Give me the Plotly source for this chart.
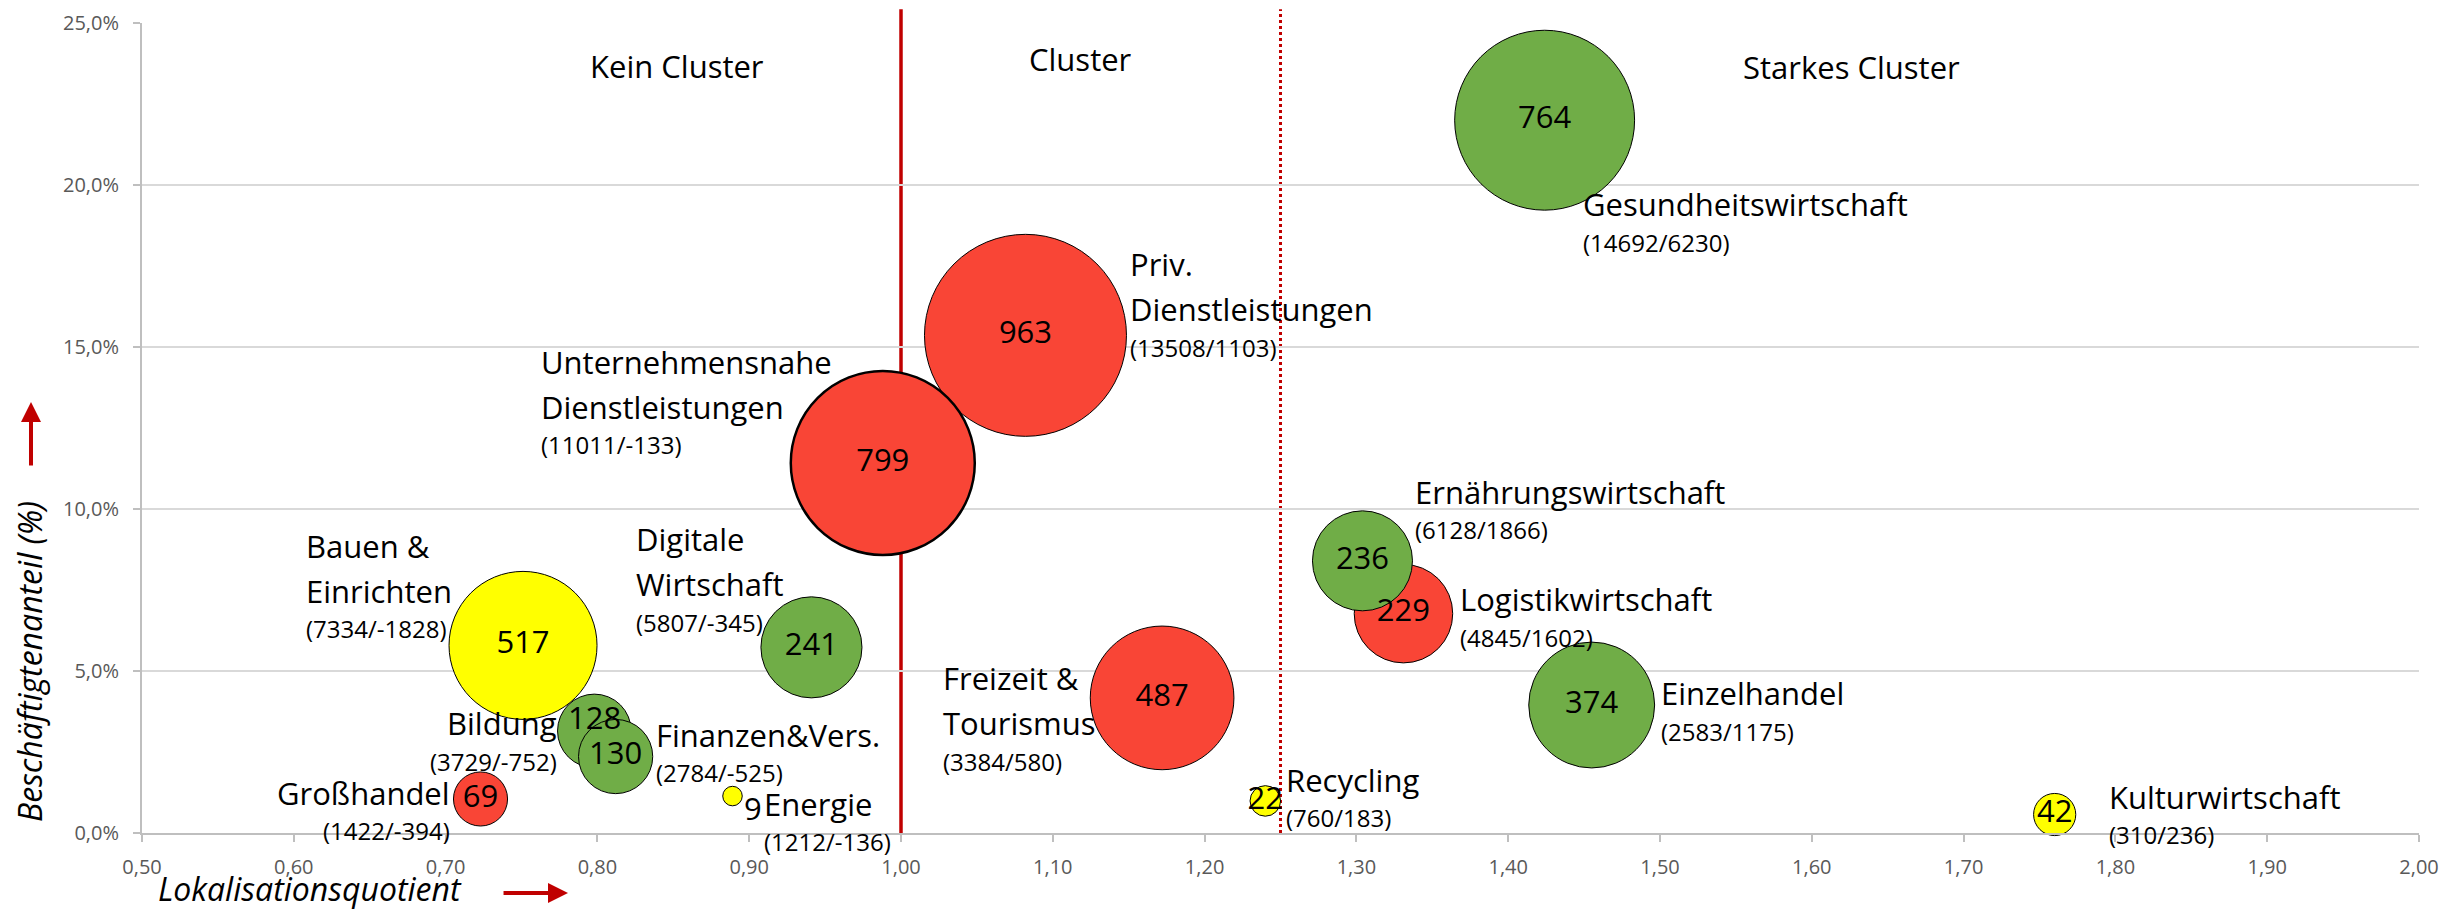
import plotly.graph_objects as go

# ---------------- data ----------------
sectors = ["Priv. Dienstleistungen", "Unternehmensnahe Dienstleistungen", "Gesundheitswirtschaft",
           "Bauen & Einrichten", "Digitale Wirtschaft", "Bildung", "Finanzen&Vers.", "Großhandel",
           "Energie", "Freizeit & Tourismus", "Recycling", "Logistikwirtschaft",
           "Ernährungswirtschaft", "Einzelhandel", "Kulturwirtschaft"]
label_names = ["Priv.<br>Dienstleistungen", "Unternehmensnahe<br>Dienstleistungen", "Gesundheitswirtschaft",
               "Bauen &<br>Einrichten", "Digitale<br>Wirtschaft", "Bildung", "Finanzen&Vers.", "Großhandel",
               "Energie", "Freizeit &<br>Tourismus", "Recycling", "Logistikwirtschaft",
               "Ernährungswirtschaft", "Einzelhandel", "Kulturwirtschaft"]
lq = [1.082, 0.988, 1.424, 0.751, 0.941, 0.798, 0.812, 0.723, 0.889, 1.172, 1.240, 1.331, 1.304, 1.455, 1.760]
share_pct = [15.36, 11.42, 22.0, 5.79, 5.73, 3.15, 2.36, 1.05, 1.14, 4.17, 0.99, 6.77, 8.40, 3.95, 0.57]
bubble_value = [963, 799, 764, 517, 241, 128, 130, 69, 9, 487, 22, 229, 236, 374, 42]
employees = [13508, 11011, 14692, 7334, 5807, 3729, 2784, 1422, 1212, 3384, 760, 4845, 6128, 2583, 310]
change = [1103, -133, 6230, -1828, -345, -752, -525, -394, -136, 580, 183, 1602, 1866, 1175, 236]
status = ["rot", "rot", "grün", "gelb", "grün", "grün", "grün", "rot", "gelb", "rot", "gelb", "rot",
          "grün", "grün", "gelb"]

x_ticks = [0.5 + 0.1 * i for i in range(16)]
region_titles = ["Kein Cluster", "Cluster", "Starkes Cluster"]
thresholds = [1.0, 1.25]

# ---------------- styles / label placement ----------------
status_color = {"rot": "#F94536", "grün": "#70AD47", "gelb": "#FFFF00"}
# label anchor positions (data units: x, y in %), alignment
label_pos = [
    (1.1495, 18.26, "left"), (0.7614, 15.26, "left"), (1.448, 20.11, "left"),
    (0.6065, 9.58, "left"), (0.824, 9.77, "left"), (0.7745, 4.09, "right"),
    (0.8375, 3.75, "left"), (0.704, 1.96, "right"), (0.9083, 1.62, "left"),
    (1.0263, 5.48, "left"), (1.2523, 2.36, "left"), (1.367, 7.92, "left"),
    (1.337, 11.25, "left"), (1.4994, 5.02, "left"), (1.7946, 1.82, "left"),
]
# value labels that sit off the bubble centre: (xshift, yshift, xanchor) in px
value_offsets = {9: (9, -12, "left"), 128: (0, 14, "center")}
region_pos = [(0.8523, 23.67), (1.118, 23.89), (1.626, 23.64)]
NAME_LINE = 45      # px between name lines
SUB_OFFSET = 42.4   # px from last name line top to the sub line top

FONT = "Open Sans"
y_frac = [v / 100 for v in share_pct]
colors = [status_color[s] for s in status]
line_w = [2.5 if b == 799 else 1 for b in bubble_value]
point_text = ["" if b in value_offsets else str(b) for b in bubble_value]

fig = go.Figure()
fig.add_trace(go.Scatter(
    x=lq, y=y_frac, mode="markers+text",
    text=point_text, textposition="middle center",
    textfont=dict(family=FONT, size=31, color="black"),
    marker=dict(size=bubble_value, sizemode="area", sizeref=0.0472, color=colors,
                opacity=1, line=dict(color="black", width=line_w)),
    cliponaxis=False, hoverinfo="text", hovertext=sectors,
))

# threshold lines
fig.add_shape(type="line", xref="x", yref="paper", x0=thresholds[0], x1=thresholds[0],
              y0=0, y1=1.017, line=dict(color="#C00000", width=3.5), layer="below")
fig.add_shape(type="line", xref="x", yref="paper", x0=thresholds[1], x1=thresholds[1],
              y0=0, y1=1.017, line=dict(color="#C00000", width=3, dash="dot"), layer="below")

annotations = []
for xv, yv, b in zip(lq, y_frac, bubble_value):
    if b in value_offsets:
        dx, dy, xa = value_offsets[b]
        annotations.append(dict(x=xv, y=yv, xref="x", yref="y", text=str(b), showarrow=False,
                                xanchor=xa, yanchor="middle", xshift=dx, yshift=dy,
                                font=dict(family=FONT, size=31, color="black")))

for name, e, c, (ax_, ay_, al) in zip(label_names, employees, change, label_pos):
    lines = name.split("<br>")
    for k, ln in enumerate(lines):
        annotations.append(dict(x=ax_, y=ay_ / 100, xref="x", yref="y", text=ln, showarrow=False,
                                xanchor=al, yanchor="top", align=al, yshift=-NAME_LINE * k,
                                font=dict(family=FONT, size=31, color="black")))
    annotations.append(dict(x=ax_, y=ay_ / 100, xref="x", yref="y", text=f"({e}/{c})", showarrow=False,
                            xanchor=al, yanchor="top", align=al,
                            yshift=-(NAME_LINE * (len(lines) - 1) + SUB_OFFSET),
                            font=dict(family=FONT, size=24, color="black")))
for t, (rx, ry) in zip(region_titles, region_pos):
    annotations.append(dict(x=rx, y=ry / 100, xref="x", yref="y", text=t, showarrow=False,
                            xanchor="center", yanchor="middle",
                            font=dict(family=FONT, size=31, color="black")))

# axis titles and arrows
annotations.append(dict(x=-0.0496, y=0.2111, xref="paper", yref="paper", text="<i>Beschäftigtenanteil (%)</i>",
                        textangle=-90, showarrow=False, xanchor="center", yanchor="middle",
                        font=dict(family=FONT, size=32, color="black")))
annotations.append(dict(x=0.0736, y=-0.0691, xref="paper", yref="paper", text="<i>Lokalisationsquotient</i>",
                        showarrow=False, xanchor="center", yanchor="middle",
                        font=dict(family=FONT, size=32, color="black")))
annotations.append(dict(x=-0.04875, y=0.5321, xref="paper", yref="paper", text="", showarrow=True,
                        ax=0, ay=65, arrowhead=2, arrowsize=1, arrowwidth=4, arrowcolor="#C00000"))
annotations.append(dict(x=0.1871, y=-0.0741, xref="paper", yref="paper", text="", showarrow=True,
                        ax=-66, ay=0, arrowhead=2, arrowsize=1, arrowwidth=4, arrowcolor="#C00000"))

fig.update_layout(
    width=2453, height=910,
    margin=dict(l=142, r=34, t=23, b=77, autoexpand=False),
    paper_bgcolor="white", plot_bgcolor="white",
    separators=",.", showlegend=False,
    font=dict(family=FONT),
    annotations=annotations,
    xaxis=dict(range=[0.5, 2.0], tickvals=x_ticks, tickformat=".2f", showgrid=False, automargin=False,
               showline=True, linecolor="#BFBFBF", linewidth=2, ticks="outside", ticklen=7,
               tickcolor="#BFBFBF", tickwidth=2, zeroline=False, ticklabelstandoff=8,
               tickfont=dict(family=FONT, size=20, color="#595959")),
    yaxis=dict(range=[0, 0.25], dtick=0.05, tickformat=".1%", showgrid=True, gridcolor="#D9D9D9",
               automargin=False,
               gridwidth=2, showline=True, linecolor="#BFBFBF", linewidth=2, ticks="outside",
               ticklen=7, tickcolor="#BFBFBF", tickwidth=2, zeroline=False, ticklabelstandoff=10,
               tickfont=dict(family=FONT, size=20, color="#595959")),
)

# remove the default 8px page margin so the figure fills the window exactly
fig.write_html("out.html", config={"displayModeBar": False},
               post_script="document.body.style.margin='0';document.body.style.overflow='hidden';")
